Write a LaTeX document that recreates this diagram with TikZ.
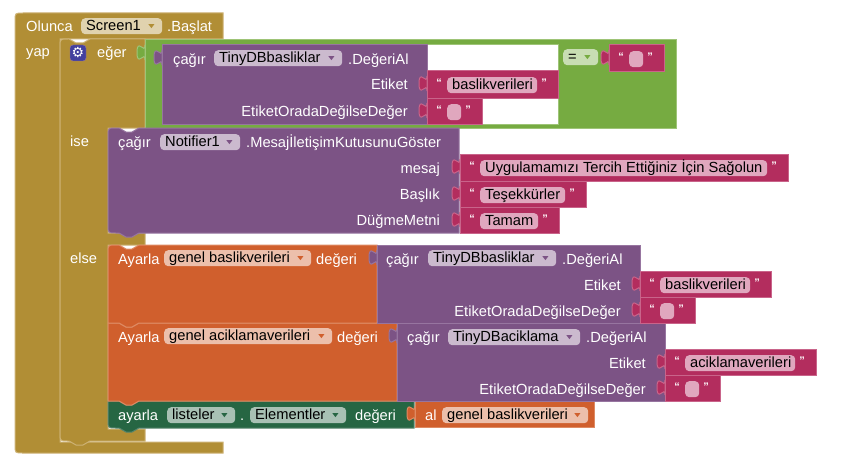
\documentclass[tikz,border=0pt]{standalone}
\usepackage{fontspec}
\setmainfont{Liberation Sans}
\newfontfamily\symfont{DejaVu Sans}
\usepackage{xcolor}
\usetikzlibrary{calc}

\definecolor{fillgold}{HTML}{B18E35}
\definecolor{edgegold}{HTML}{CDB274}
\definecolor{fldgold}{HTML}{E0D2AE}
\definecolor{fillgreen}{HTML}{76AB41}
\definecolor{edgegreen}{HTML}{9EC477}
\definecolor{fldgreen}{HTML}{C8DDB3}
\definecolor{fillplum}{HTML}{7C5385}
\definecolor{edgeplum}{HTML}{9775A0}
\definecolor{fldplum}{HTML}{CBBACE}
\definecolor{fillrose}{HTML}{B32D5E}
\definecolor{edgerose}{HTML}{C9648A}
\definecolor{fldrose}{HTML}{E0A7BE}
\definecolor{fillrust}{HTML}{D05F2D}
\definecolor{edgerust}{HTML}{DE8A63}
\definecolor{fldrust}{HTML}{ECBFAB}
\definecolor{fillpine}{HTML}{266643}
\definecolor{edgepine}{HTML}{56856D}
\definecolor{fldpine}{HTML}{A8C1B4}
\definecolor{fillgear}{HTML}{43409E}

\newcommand{\blkfont}{\fontsize{14.67}{17}\selectfont}

\tikzset{
  every node/.style={font=\blkfont},
  goldblk/.style={fill=fillgold,draw=edgegold,line width=1pt},
  greenblk/.style={fill=fillgreen,draw=edgegreen,line width=1pt},
  plumblk/.style={fill=fillplum,draw=edgeplum,line width=1pt},
  roseblk/.style={fill=fillrose,draw=edgerose,line width=1pt},
  rustblk/.style={fill=fillrust,draw=edgerust,line width=1pt},
  pineblk/.style={fill=fillpine,draw=edgepine,line width=1pt},
  lbl/.style={text=white,anchor=base west,inner sep=0pt},
  rlbl/.style={text=white,anchor=base east,inner sep=0pt},
  fld/.style={anchor=north west,rounded corners=4pt,text=black,inner xsep=5pt,inner ysep=1pt,text height=11pt,text depth=3pt},
  qte/.style={text=white,anchor=base,inner sep=0pt,font=\fontsize{11}{11}\bfseries\selectfont}
}

% left side tab of a value block
\newcommand{\jack}[3]{\draw[#3] (#1,#2) .. controls (#1,#2+10) and (#1-8,#2-8) .. (#1-8,#2+7.5) .. controls (#1-8,#2+23) and (#1,#2+5) .. (#1,#2+15) -- cycle;}
% field with a dropdown arrow
\newcommand{\ddfld}[7]{
\node[fld,fill=#6] (#1) at (#2,#3) {\makebox[\dimexpr#4pt-10pt\relax][l]{#5}};
\fill[#7] ($(#1.east)+(-14,-2)$) -- ++(6,0) -- ++(-3,4) -- cycle;
}
% text block with quotes
\newcommand{\strblock}[6]{
\jack{#2}{#3+5}{roseblk}
\draw[roseblk] (#2,#3) rectangle (#2+20+#5+21,#3+#4);
\node[qte] (#1l) at (#2+12,#3+15) {“};
\node[fld,fill=fldrose] (#1) at (#2+20,#3+6) {\makebox[\dimexpr#5pt-10pt\relax][l]{#6}};
\node[qte] (#1r) at (#2+20+#5+7,#3+15) {”};
}

\begin{document}
\begin{tikzpicture}[x=1pt,y=-1pt]
\useasboundingbox (0,0) rectangle (854,460);

% outer event block
\draw[goldblk] (15,21) .. controls (15,13) .. (23,13) -- (223,13) -- (223,39) -- (60,39) -- (60,442) -- (223,442) -- (223,453) -- (23,453) .. controls (15,453) .. (15,445) -- cycle;
\node[lbl] (olunca) at (26,32) {Olunca};
\ddfld{screen}{81}{18}{81}{Screen1}{fldgold}{fillgold}
\node[lbl] (baslat) at (167,32) {.Başlat};
\node[lbl] (yap) at (26,57) {yap};

% if block
\draw[goldblk] (60,47) .. controls (60,39) .. (68,39) -- (69,39) -- (76,43) -- (83,43) -- (90,39) -- (145,39) -- (145,128) -- (108,128) -- (108,233) -- (145,233) -- (145,245) -- (108,245) -- (108,429) -- (145,429) -- (145,441) -- (90,441) -- (83,445) -- (76,445) -- (69,441) -- (68,441) .. controls (60,441) .. (60,433) -- cycle;
\node[rounded corners=3pt,fill=fillgear,draw=edgeplum,minimum size=16pt,inner sep=0pt,text=white,font=\symfont\fontsize{14}{14}\selectfont] (gear) at (78,53) {⚙};
\node[lbl] (eger) at (97,58) {eğer};
\node[lbl] (ise) at (70,146) {ise};
\node[lbl] (else) at (70,263) {else};

% compare block
\jack{145}{45}{greenblk}
\draw[greenblk] (145,40) rectangle (676,128);
\draw[fill=white,draw=edgegreen,line width=1pt] (427,45) rectangle (558,124);
\ddfld{equal}{563}{49}{35}{=}{fldgreen}{fillgreen}
\strblock{emptya}{609}{45}{27}{14}{}

% value call in the compare block
\jack{162}{50}{plumblk}
\draw[plumblk] (162,45) rectangle (427,124);
\node[lbl] (cagira) at (173,64) {çağır};
\ddfld{dba}{214}{50}{128}{TinyDBbasliklar}{fldplum}{fillplum}
\node[lbl] (degera) at (348,64) {.DeğeriAl};
\node[rlbl] (etiketa) at (408,89) {Etiket};
\node[rlbl] (oradaa) at (408,116) {EtiketOradaDeğilseDeğer};
\strblock{baslika}{427}{71}{27}{90}{baslikverileri}
\strblock{emptyb}{427}{98}{26}{14}{}

% notifier call
\draw[plumblk] (108,136) .. controls (108,128) .. (116,128) -- (119,128) -- (126,132) -- (132,132) -- (139,128) -- (459,128) -- (459,233) -- (139,233) -- (132,237) -- (126,237) -- (119,233) -- (116,233) .. controls (108,233) .. (108,225) -- cycle;
\node[lbl] (cagirb) at (118,147) {çağır};
\ddfld{notif}{160}{134}{80}{Notifier1}{fldplum}{fillplum}
\node[lbl] (mesajil) at (246,147) {.MesajİletişimKutusunuGöster};
\node[rlbl] (mesaj) at (440,173) {mesaj};
\node[rlbl] (baslik) at (440,199) {Başlık};
\node[rlbl] (dugme) at (440,225) {DüğmeMetni};
\strblock{tercih}{460}{154}{27}{287}{Uygulamamızı Tercih Ettiğiniz İçin Sağolun}
\strblock{tesek}{460}{181}{26}{85}{Teşekkürler}
\strblock{tamam}{460}{207}{26}{58}{Tamam}

% last set block, drawn first so the tab above lies on it
\draw[pineblk] (108,401) -- (119,401) -- (126,405) -- (132,405) -- (139,401) -- (414,401) -- (414,428) -- (139,428) -- (132,432) -- (126,432) -- (119,428) -- (116,428) .. controls (108,428) .. (108,420) -- cycle;
\node[lbl] (ayarlac) at (118,420) {ayarla};
\ddfld{liste}{167}{407}{68}{listeler}{fldpine}{fillpine}
\node[lbl] (nokta) at (240,420) {.};
\ddfld{element}{250}{407}{96}{Elementler}{fldpine}{fillpine}
\node[lbl] (degerc) at (355,420) {değeri};
\jack{415}{406}{rustblk}
\draw[rustblk] (415,401) rectangle (594,427);
\node[lbl] (al) at (425,420) {al};
\ddfld{getb}{442}{407}{146}{genel baslikverileri}{fldrust}{fillrust}

% second set block
\draw[rustblk] (108,323) -- (119,323) -- (126,327) -- (132,327) -- (139,323) -- (397,323) -- (397,401) -- (139,401) -- (132,405) -- (126,405) -- (119,401) -- (108,401) -- cycle;
\node[lbl] (ayarlab) at (118,342) {Ayarla};
\ddfld{varb}{164}{328}{168}{genel aciklamaverileri}{fldrust}{fillrust}
\node[lbl] (degerb) at (337,342) {değeri};
\jack{397}{328}{plumblk}
\draw[plumblk] (397,323) rectangle (665,401);
\node[lbl] (cagird) at (407,342) {çağır};
\ddfld{dbc}{448}{329}{132}{TinyDBaciklama}{fldplum}{fillplum}
\node[lbl] (degerd) at (586,342) {.DeğeriAl};
\node[rlbl] (etiketd) at (646,368) {Etiket};
\node[rlbl] (oradad) at (646,394) {EtiketOradaDeğilseDeğer};
\strblock{aciklama}{665}{349}{26}{110}{aciklamaverileri}
\strblock{emptyd}{665}{375}{26}{14}{}

% first set block
\draw[rustblk] (108,253) .. controls (108,245) .. (116,245) -- (119,245) -- (126,249) -- (132,249) -- (139,245) -- (377,245) -- (377,323) -- (139,323) -- (132,327) -- (126,327) -- (119,323) -- (108,323) -- cycle;
\node[lbl] (ayarlaa) at (118,264) {Ayarla};
\ddfld{vara}{164}{250}{147}{genel baslikverileri}{fldrust}{fillrust}
\node[lbl] (degerv) at (316,264) {değeri};
\jack{377}{250}{plumblk}
\draw[plumblk] (377,245) rectangle (640,323);
\node[lbl] (cagire) at (386,264) {çağır};
\ddfld{dbe}{428}{250}{128}{TinyDBbasliklar}{fldplum}{fillplum}
\node[lbl] (degere) at (562,264) {.DeğeriAl};
\node[rlbl] (etikete) at (621,290) {Etiket};
\node[rlbl] (oradae) at (621,316) {EtiketOradaDeğilseDeğer};
\strblock{baslike}{640}{271}{26}{90}{baslikverileri}
\strblock{emptye}{640}{297}{26}{14}{}
\end{tikzpicture}
\end{document}
